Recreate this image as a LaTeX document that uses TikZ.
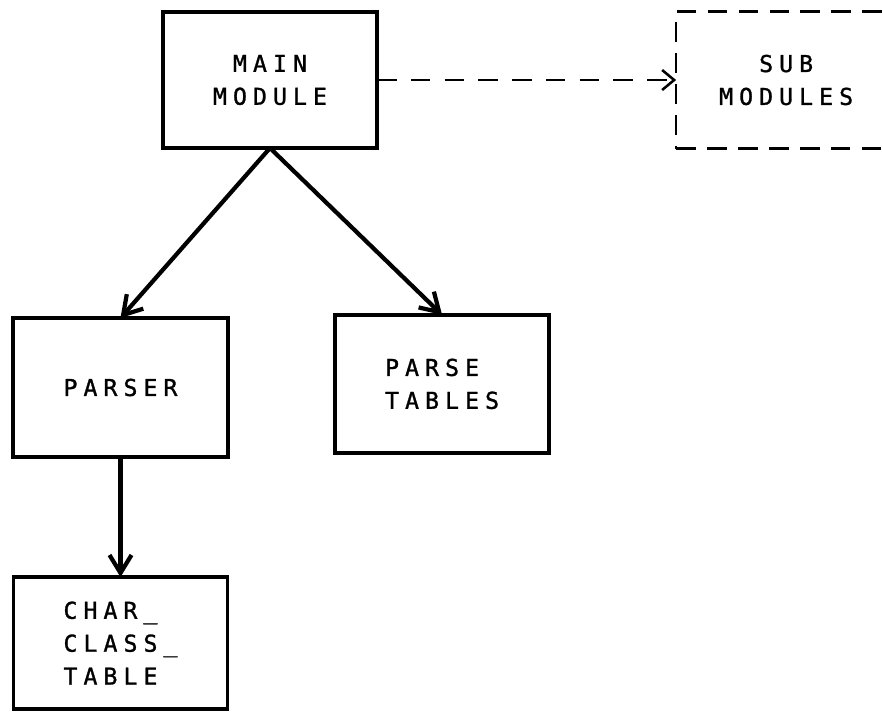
\documentclass[tikz,border=0pt]{standalone}
\usepackage{fontspec}
\usepackage{tikz}
\usetikzlibrary{positioning,arrows.meta}
\newfontfamily\plotfont[LetterSpace=26,FakeBold=1.2]{DejaVu Sans Mono}

\begin{document}
\begin{tikzpicture}[x=0.025cm,y=-0.025cm,
    every node/.style={inner sep=0,outer sep=0},
    font=\plotfont\fontsize{16.5}{23.4}\selectfont,
    modbox/.style={draw,line width=2.4pt,minimum width=5.35cm,minimum height=3.45cm,align=center},
    subbox/.style={draw,line width=1.8pt,dash pattern=on 14pt off 8pt,align=center},
    link/.style={line width=3pt,-{Straight Barb[length=4.5mm,width=5.5mm]}},
    calllink/.style={line width=1.8pt,dash pattern=on 14pt off 10pt,-{Straight Barb[length=3mm,width=5mm]}}]

    \useasboundingbox (0,0) rectangle (883,713);

    \node (main) [modbox,minimum height=3.4cm] at (270,80) {MAIN\\MODULE};
    \node (sub) [subbox,minimum width=5.5cm,minimum height=3.425cm,right=7.475cm of main] {SUB\\MODULES};

    \node (parser) [modbox,minimum width=5.375cm,minimum height=3.475cm] at (120.5,387.5) {PARSER};
    \node (tables) [modbox,right=2.675cm of parser,yshift=0.09cm,align=left] {PARSE\\TABLES};

    \node (chartab) [modbox,minimum height=3.3cm,below=3cm of parser,align=left] {CHAR\_\\CLASS\_\\TABLE};

    \draw[calllink] (main) -- (sub);
    \draw[link] (main.south) -- (parser.north);
    \draw[link] (main.south) -- (tables.north);
    \draw[link] (parser) -- (chartab);

\end{tikzpicture}
\end{document}
